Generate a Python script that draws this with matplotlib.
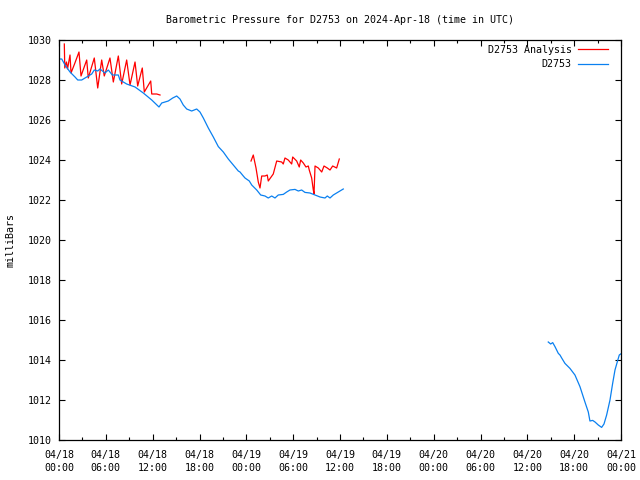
import numpy as np
import matplotlib
matplotlib.use("Agg")
import matplotlib.pyplot as plt
import matplotlib.dates as mdates
from matplotlib.ticker import MultipleLocator
import datetime as dt

base = dt.datetime(2024, 4, 18, 0, 0)

# hours since 2024-04-18 00:00 UTC, pressure in mb
obs_hours_1 = [0.0, 0.35, 0.77, 1.41, 2.05, 2.40, 2.91, 3.55, 4.19, 4.52, 4.96, 5.25, 5.89, 6.32,
               6.83, 7.60, 7.81, 8.67, 9.74, 10.80, 11.88, 12.81, 13.16, 14.00, 14.57, 15.08, 15.50,
               15.92, 16.36, 17.00, 17.64, 18.06, 18.49, 19.13, 19.77, 20.41, 21.05, 21.69, 22.33,
               22.97, 23.19, 23.61, 23.83, 24.38, 24.69, 25.33, 25.84, 26.39, 26.81, 27.25, 27.67,
               28.09, 28.73, 29.17, 29.59, 30.23, 30.66, 31.09, 31.51, 32.15, 32.80, 33.44, 34.08,
               34.37, 34.72, 35.14, 35.78, 36.42]
obs_mb_1 = [1029.05, 1029.05, 1028.75, 1028.4, 1028.15, 1028.0, 1028.0, 1028.15, 1028.3, 1028.5,
            1028.45, 1028.55, 1028.35, 1028.5, 1028.25, 1028.25, 1028.0, 1027.8, 1027.65, 1027.35,
            1027.0, 1026.65, 1026.85, 1026.95, 1027.1, 1027.2, 1027.05, 1026.75, 1026.55, 1026.45,
            1026.55, 1026.4, 1026.1, 1025.6, 1025.15, 1024.67, 1024.4, 1024.05, 1023.75, 1023.45,
            1023.4, 1023.2, 1023.1, 1022.95, 1022.75, 1022.5, 1022.25, 1022.2, 1022.1, 1022.2,
            1022.1, 1022.25, 1022.28, 1022.4, 1022.5, 1022.53, 1022.45, 1022.5, 1022.38, 1022.35,
            1022.25, 1022.15, 1022.1, 1022.2, 1022.1, 1022.25, 1022.4, 1022.55]

obs_hours_2 = [62.68, 62.99, 63.25, 63.54, 63.97, 64.18, 64.40, 64.82, 65.46, 66.10, 66.74, 67.38,
               67.81, 68.02, 68.37, 68.67, 69.09, 69.52, 69.82, 70.16, 70.59, 70.93, 71.23, 71.52,
               71.78, 71.96]
obs_mb_2 = [1014.9, 1014.8, 1014.87, 1014.67, 1014.33, 1014.25, 1014.1, 1013.83, 1013.58, 1013.25,
            1012.67, 1011.9, 1011.4, 1010.95, 1010.98, 1010.9, 1010.75, 1010.63, 1010.8, 1011.25,
            1012.0, 1012.83, 1013.5, 1013.9, 1014.25, 1014.3]

ana_hours_1 = [0.68, 0.74, 0.96, 1.09, 1.41, 1.54, 1.99, 2.56, 2.82, 3.55, 3.75, 4.52, 4.96, 5.47,
               5.80, 6.53, 6.96, 7.60, 8.03, 8.67, 9.10, 9.74, 10.08, 10.67, 10.93, 11.75, 11.88,
               12.52, 12.94]
ana_mb_1 = [1029.8, 1028.6, 1028.9, 1028.55, 1029.25, 1028.35, 1028.8, 1029.4, 1028.2, 1029.0,
            1028.1, 1029.1, 1027.6, 1029.0, 1028.2, 1029.1, 1027.9, 1029.2, 1027.8, 1029.0,
            1027.75, 1028.9, 1027.7, 1028.6, 1027.4, 1027.95, 1027.3, 1027.3, 1027.25]

ana_hours_2 = [24.60, 24.89, 25.24, 25.53, 25.75, 25.97, 26.39, 26.68, 26.81, 27.45, 27.89, 28.53,
               28.73, 28.95, 29.37, 29.81, 29.94, 30.45, 30.78, 30.96, 31.30, 31.64, 31.94, 32.06,
               32.37, 32.58, 32.67, 32.80, 33.22, 33.66, 33.95, 34.37, 34.72, 35.06, 35.57, 35.91]
ana_mb_2 = [1023.95, 1024.25, 1023.6, 1022.9, 1022.6, 1023.2, 1023.2, 1023.25, 1022.95, 1023.3,
            1023.95, 1023.9, 1023.8, 1024.1, 1024.0, 1023.8, 1024.15, 1023.95, 1023.65, 1024.0,
            1023.85, 1023.65, 1023.7, 1023.5, 1023.1, 1022.5, 1022.3, 1023.7, 1023.6, 1023.4,
            1023.7, 1023.6, 1023.5, 1023.7, 1023.6, 1024.05]


def to_times(hours):
    return [base + dt.timedelta(hours=h) for h in hours]


def join(h1, v1, h2, v2):
    # NaN in between so the gap is not bridged
    t = to_times(h1) + [base + dt.timedelta(hours=(h1[-1] + h2[0]) / 2)] + to_times(h2)
    v = list(v1) + [np.nan] + list(v2)
    return t, v


plt.rcParams['font.family'] = ['DejaVu Sans Mono']
plt.rcParams['font.size'] = 7.2

fig = plt.figure(figsize=(6.4, 4.8), dpi=100)
ax = fig.add_axes([59 / 640, 40 / 480, 562 / 640, 400 / 480])

t_ana, v_ana = join(ana_hours_1, ana_mb_1, ana_hours_2, ana_mb_2)
t_obs, v_obs = join(obs_hours_1, obs_mb_1, obs_hours_2, obs_mb_2)

ax.plot(t_ana, v_ana, color='#ff0000', lw=0.9, label='D2753 Analysis')
ax.plot(t_obs, v_obs, color='#0a80f0', lw=0.9, label='D2753')

ax.set_xlim(base, base + dt.timedelta(hours=72))
ax.set_ylim(1010, 1030)
ax.xaxis.set_major_locator(mdates.HourLocator(byhour=range(0, 24, 6)))
ax.xaxis.set_minor_locator(mdates.HourLocator(byhour=range(3, 24, 6)))
ax.xaxis.set_major_formatter(mdates.DateFormatter('%m/%d\n%H:%M'))
ax.yaxis.set_major_locator(MultipleLocator(2))

ax.tick_params(which='both', direction='in', top=True, right=True, width=0.8, colors='black')
ax.tick_params(which='major', length=4.5)
ax.tick_params(axis='x', which='major', pad=7)
ax.tick_params(axis='y', which='major', pad=5)
ax.tick_params(which='minor', length=2.5)
for lbl in ax.get_xticklabels():
    lbl.set_linespacing(1.45)
for s in ax.spines.values():
    s.set_linewidth(0.9)

ax.set_ylabel('milliBars', labelpad=9)
ax.set_title('Barometric Pressure for D2753 on 2024-Apr-18 (time in UTC)', fontsize=7.2, pad=12.5)

ax.legend(loc='upper right', frameon=False, markerfirst=False, handlelength=3.0,
          borderaxespad=0.2, borderpad=0.3, labelspacing=0.45, handletextpad=0.6,
          bbox_to_anchor=(0.985, 1.0))

fig.savefig('out.png', dpi=100)
